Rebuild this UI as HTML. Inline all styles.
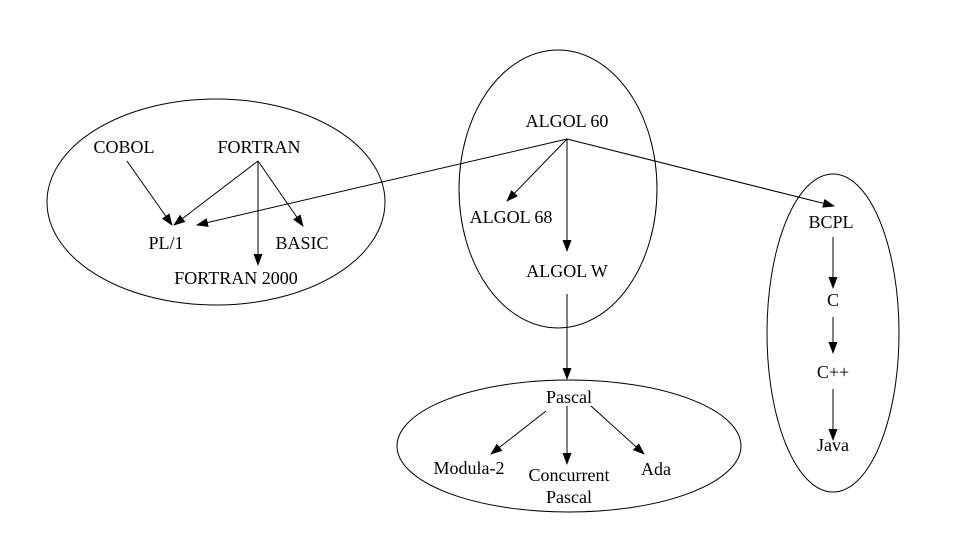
<!DOCTYPE html>
<html><head><meta charset="utf-8"><style>
html,body{margin:0;padding:0;background:#fff;}
svg text{font-family:"Liberation Serif",serif;font-size:18px;fill:#000;text-anchor:middle;dominant-baseline:central;}
</style></head><body>
<svg width="977" height="532" viewBox="0 0 977 532" xmlns="http://www.w3.org/2000/svg">
<defs><marker id="a" markerWidth="12" markerHeight="10" refX="11" refY="4.5" orient="auto" markerUnits="userSpaceOnUse"><path d="M0,0 L12,4.5 L0,9 z" fill="#000"/></marker></defs>
<g fill="none" stroke="#000" stroke-width="1">
<ellipse cx="216" cy="202" rx="169" ry="103"/>
<ellipse cx="558" cy="189" rx="99" ry="139"/>
<ellipse cx="569" cy="446" rx="172" ry="66"/>
<ellipse cx="833" cy="333" rx="66" ry="159"/>
</g>
<g stroke="#000" stroke-width="1" marker-end="url(#a)">
<line x1="127" y1="161" x2="172" y2="225"/>
<line x1="258" y1="161" x2="174" y2="225"/>
<line x1="258" y1="161" x2="258" y2="265"/>
<line x1="258" y1="161" x2="303" y2="226"/>
<line x1="567" y1="139" x2="197" y2="225"/>
<line x1="567" y1="139" x2="507" y2="201"/>
<line x1="567" y1="139" x2="567" y2="251"/>
<line x1="567" y1="139" x2="834" y2="206"/>
<line x1="567" y1="294" x2="567" y2="379"/>
<line x1="546" y1="411" x2="491" y2="454"/>
<line x1="567" y1="406" x2="567" y2="464"/>
<line x1="591" y1="406" x2="644" y2="454"/>
<line x1="833" y1="237" x2="833" y2="288"/>
<line x1="833" y1="317" x2="833" y2="353"/>
<line x1="833" y1="389" x2="833" y2="440"/>
</g>
<text x="124" y="147">COBOL</text>
<text x="259" y="147">FORTRAN</text>
<text x="166" y="243">PL/1</text>
<text x="302" y="243">BASIC</text>
<text x="236" y="278">FORTRAN 2000</text>
<text x="567" y="121">ALGOL 60</text>
<text x="511" y="217">ALGOL 68</text>
<text x="567" y="271">ALGOL W</text>
<text x="831" y="222">BCPL</text>
<text x="833" y="300">C</text>
<text x="833" y="372">C++</text>
<text x="833" y="445">Java</text>
<text x="569" y="397">Pascal</text>
<text x="469" y="468">Modula-2</text>
<text x="569" y="475">Concurrent</text>
<text x="569" y="497">Pascal</text>
<text x="656" y="469">Ada</text>
</svg>
</body></html>
